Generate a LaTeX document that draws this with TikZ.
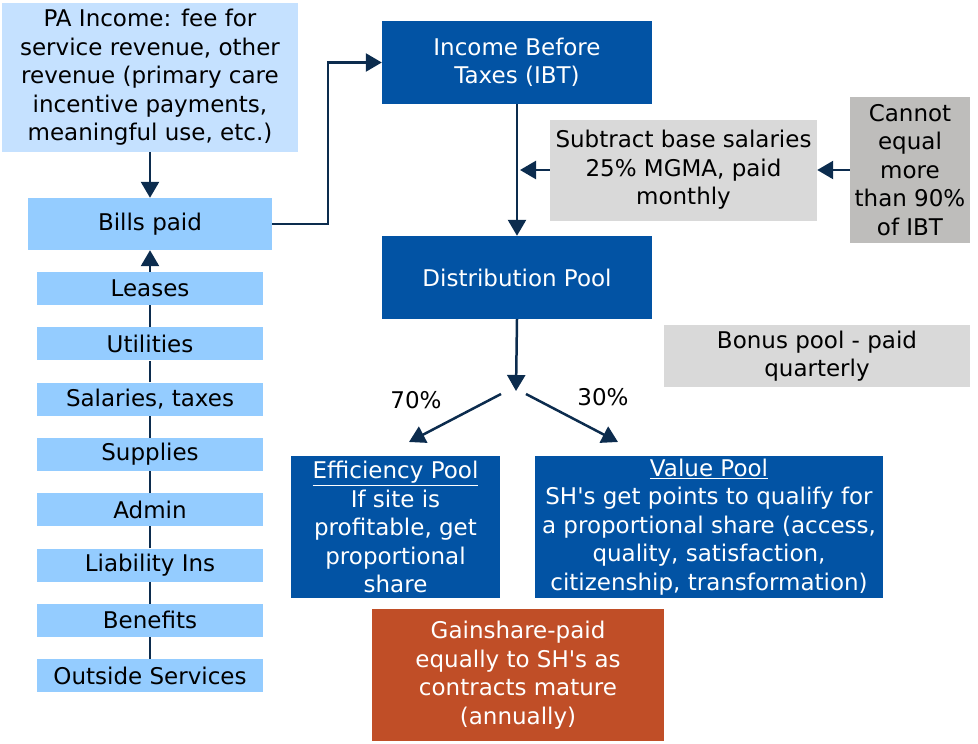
\documentclass[tikz,border=0pt]{standalone}
\usepackage{fontspec}
\setmainfont{DejaVu Sans}
\usetikzlibrary{arrows.meta}

\definecolor{paleblue}{RGB}{197,225,255}
\definecolor{lightblue}{RGB}{148,204,255}
\definecolor{darkblue}{RGB}{2,83,164}
\definecolor{rust}{RGB}{192,78,39}
\definecolor{lightgray}{RGB}{217,217,217}
\definecolor{midgray}{RGB}{190,189,187}
\definecolor{navy}{RGB}{12,44,78}

\begin{document}
\begin{tikzpicture}[x=1pt,y=-1pt]
\tikzstyle{every node}=[inner sep=0pt, align=center, font=\fontsize{23}{28.5}\selectfont]
\tikzstyle{cost}=[fill=lightblue, minimum width=226pt, minimum height=33pt]
\tikzstyle{pool}=[fill=darkblue, text=white]
\tikzstyle{link}=[draw=navy, line width=2.5pt]
\tikzstyle{flow}=[link, -{Triangle[width=18pt,length=16pt]}]
\useasboundingbox (0,0) rectangle (978,744);

% income side
\node (pa) at (150,77.5) [fill=paleblue, minimum width=296pt, minimum height=149pt]
  {PA Income: fee for\\service revenue, other\\revenue (primary care\\incentive payments,\\meaningful use, etc.)};
\node (bills) at (150,224) [fill=lightblue, minimum width=244pt, minimum height=52pt] {Bills paid};
\foreach \name/\txt [count=\i from 0] in {leases/Leases, util/Utilities, sal/{Salaries, taxes},
    supp/Supplies, admin/Admin, liab/Liability Ins, ben/Benefits, outside/Outside Services}
  \node (\name) at (150,288.5+55.3*\i) [cost] {\txt};

% pools
\node (ibt) at (517,62.5) [pool, minimum width=270pt, minimum height=83pt] {Income Before\\Taxes (IBT)};
\node (dist) at (517,277.5) [pool, minimum width=270pt, minimum height=83pt] {Distribution Pool};
\node (sub) at (683.5,170) [fill=lightgray, minimum width=267pt, minimum height=101pt]
  {Subtract base salaries\\25\% MGMA, paid\\monthly};
\node (cap) at (910,170) [fill=midgray, minimum width=120pt, minimum height=146pt]
  {Cannot\\equal\\more\\than 90\%\\of IBT};
\node (bonus) at (817,356) [fill=lightgray, minimum width=306pt, minimum height=62pt]
  {Bonus pool - paid\\quarterly};
\node (eff) at (395.5,527) [pool, minimum width=209pt, minimum height=142pt]
  {\underline{Efficiency Pool}\\If site is\\profitable, get\\proportional\\share};
\node (val) at (709,527) [pool, minimum width=348pt, minimum height=142pt]
  {\underline{Value Pool}\\SH\textquotesingle s get points to qualify for\\a proportional share (access,\\quality, satisfaction,\\citizenship, transformation)};
\node (gain) at (518,675) [fill=rust, text=white, minimum width=292pt, minimum height=132pt]
  {Gainshare-paid\\equally to SH\textquotesingle s as\\contracts mature\\(annually)};
\node (p70) at (416,400) {70\%};
\node (p30) at (603,397) {30\%};

\coordinate (sub-tip) at (520,170);
\coordinate (split) at (516,391);
\coordinate (left-from) at (501,394);
\coordinate (left-to) at (409,442);
\coordinate (right-from) at (526,394);
\coordinate (right-to) at (618,442);

% connectors
\draw[flow] (pa) -- (bills);
\foreach \a/\b in {outside/ben, ben/liab, liab/admin, admin/supp, supp/sal, sal/util, util/leases}
  \draw[link, line width=2pt] (\a) -- (\b);
\draw[flow] (leases) -- (bills);
\draw[flow] (bills.east) -- ++(56,0) |- (ibt.west);
\draw[flow] (ibt) -- (dist);
\draw[flow] (sub.west) -- (sub-tip);
\draw[flow] (cap.west) -- (sub.east);
\draw[flow] (dist.south) -- (split);
\draw[flow] (left-from) -- (left-to);
\draw[flow] (right-from) -- (right-to);
\end{tikzpicture}
\end{document}
